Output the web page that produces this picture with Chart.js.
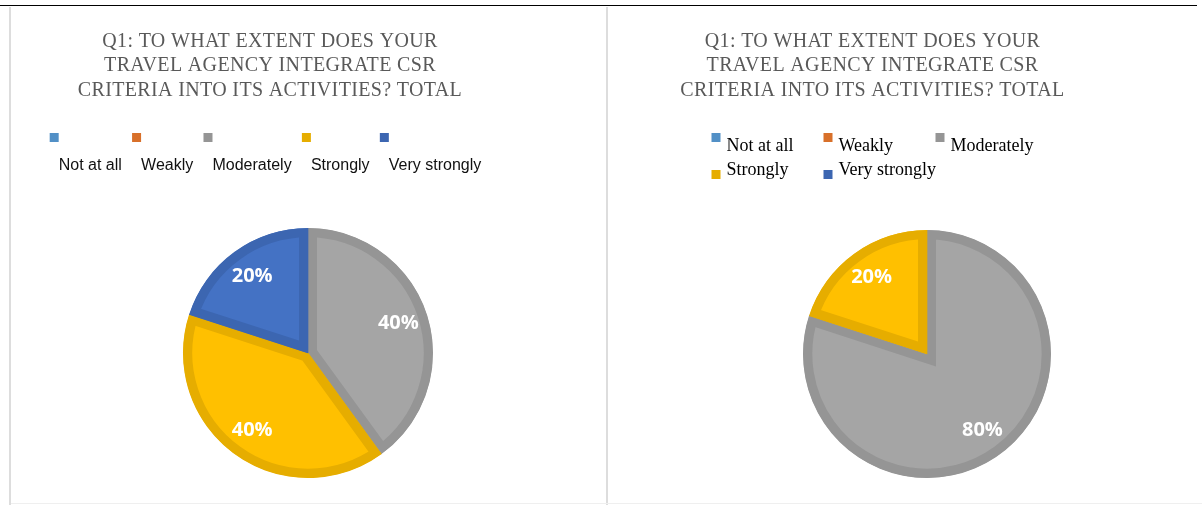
<!DOCTYPE html>
<html>
<head>
<meta charset="utf-8">
<title>Q1 – CSR criteria in travel agencies</title>
<script src="https://cdn.jsdelivr.net/npm/chart.js@4.4.1/dist/chart.umd.min.js"></script>
<style>
  html, body { margin: 0; padding: 0; background: #fff; }
  body { width: 1202px; height: 505px; position: relative; overflow: hidden; }
  .rule-top { position: absolute; left: 0; top: 5px; width: 1197px; height: 1px; background: #000; }
  .rule-v { position: absolute; top: 7px; bottom: 0; width: 2px; background: #dddddd; }
  .rule-bottom { position: absolute; left: 11px; right: 0; bottom: 1px; height: 1px; background: #efefef; }
  .panel { position: absolute; top: 7px; height: 498px; }
  #panelA { left: 11px; width: 595px; }
  #panelB { left: 609px; width: 593px; }
</style>
</head>
<body>
<div class="rule-top"></div>
<div class="rule-v" style="left:9px"></div>
<div class="rule-v" style="left:606px"></div>
<div class="rule-bottom"></div>
<div class="panel" id="panelA"><canvas id="pieA"></canvas></div>
<div class="panel" id="panelB"><canvas id="pieB"></canvas></div>

<script>
/* ---------- Survey data (% of answers) ---------- */
const CATEGORIES = ["Not at all", "Weakly", "Moderately", "Strongly", "Very strongly"];
const SHARE_A = [0, 0, 40, 40, 20];
const SHARE_B = [0, 0, 80, 20, 0];

const TITLE_LINES = [
  "Q1: TO WHAT EXTENT DOES YOUR",
  "TRAVEL AGENCY INTEGRATE CSR",
  "CRITERIA INTO ITS ACTIVITIES? TOTAL"
];

/* ---------- Office palette ---------- */
const FILLS = ["#5B9BD5", "#ED7D31", "#A5A5A5", "#FFC000", "#4472C4"];
const EDGES = ["#5290C6", "#D8702A", "#959595", "#E6AD00", "#3C66B1"];

/* ---------- Title, legend and % labels ---------- */
function panelText(cfg) {
  return {
    id: "panelText",
    afterDatasetsDraw(chart) {
      const ctx = chart.ctx;
      const values = chart.data.datasets[0].data;
      ctx.save();
      ctx.fillStyle = "#ffffff";
      ctx.font = '700 20px "Open Sans"';
      ctx.textAlign = "center";
      ctx.textBaseline = "middle";
      chart.getDatasetMeta(0).data.forEach((arc, i) => {
        if (!values[i]) return;
        const p = arc.getProps(["x", "y", "startAngle", "endAngle", "outerRadius"], true);
        const mid = (p.startAngle + p.endAngle) / 2;
        const r = p.outerRadius * 0.76;
        ctx.fillText(values[i] + "%", p.x + Math.cos(mid) * r, p.y + Math.sin(mid) * r);
      });
      ctx.restore();
    },
    afterDraw(chart) {
      const ctx = chart.ctx;
      ctx.save();

      // title
      ctx.fillStyle = "#595959";
      ctx.font = '20px "Liberation Serif"';
      ctx.letterSpacing = "0.35px";
      ctx.textAlign = "center";
      ctx.textBaseline = "alphabetic";
      TITLE_LINES.forEach((line, i) => ctx.fillText(line, cfg.titleX, 39.5 + i * 24.8));
      ctx.letterSpacing = "0px";

      // legend
      const labels = chart.data.labels;
      ctx.textAlign = "left";
      if (cfg.legend === "row") {
        ctx.font = '16px "Liberation Sans"';
        ctx.fillStyle = "#111";
        const gap = 19.25;
        const widths = labels.map(t => ctx.measureText(t).width);
        const total = widths.reduce((a, b) => a + b, 0) + gap * (labels.length - 1);
        let x = cfg.titleX - total / 2;
        labels.forEach((t, i) => {
          ctx.fillStyle = EDGES[i];
          ctx.fillRect(x - 9, 126, 9, 9);
          ctx.fillStyle = "#111";
          ctx.fillText(t, x, 162.5);
          x += widths[i] + gap;
        });
      } else {
        ctx.font = '18px "Liberation Serif"';
        const cols = 3, colW = 112;
        const left = cfg.titleX - 161;
        labels.forEach((t, i) => {
          const row = Math.floor(i / cols);
          const x = left + (i % cols) * colW;
          const base = 144 + row * 24;
          ctx.fillStyle = EDGES[i];
          ctx.fillRect(x, row === 0 ? base - 18 : base - 5, 9, 9);
          ctx.fillStyle = "#000";
          ctx.fillText(t, x + 15, base);
        });
      }
      ctx.restore();
    }
  };
}

function makePie(id, shares, padding, textCfg) {
  return new Chart(document.getElementById(id), {
    type: "pie",
    data: {
      labels: CATEGORIES,
      datasets: [{
        data: shares,
        backgroundColor: FILLS,
        borderColor: EDGES,
        borderWidth: c => (c.raw ? 9 : 0),
        borderAlign: "inner",
        borderJoinStyle: "miter",
        hoverOffset: 0,
        offset: 0
      }]
    },
    options: {
      responsive: true,
      maintainAspectRatio: false,
      animation: false,
      events: [],
      layout: { padding },
      plugins: {
        legend: { display: false },
        title: { display: false },
        tooltip: { enabled: false }
      }
    },
    plugins: [panelText(textCfg)]
  });
}

makePie("pieA", SHARE_A, { left: 172, right: 173, top: 221, bottom: 27 }, { titleX: 259, legend: "row" });
makePie("pieB", SHARE_B, { left: 194, right: 151, top: 223, bottom: 27 }, { titleX: 263.5, legend: "grid" });
</script>
</body>
</html>
